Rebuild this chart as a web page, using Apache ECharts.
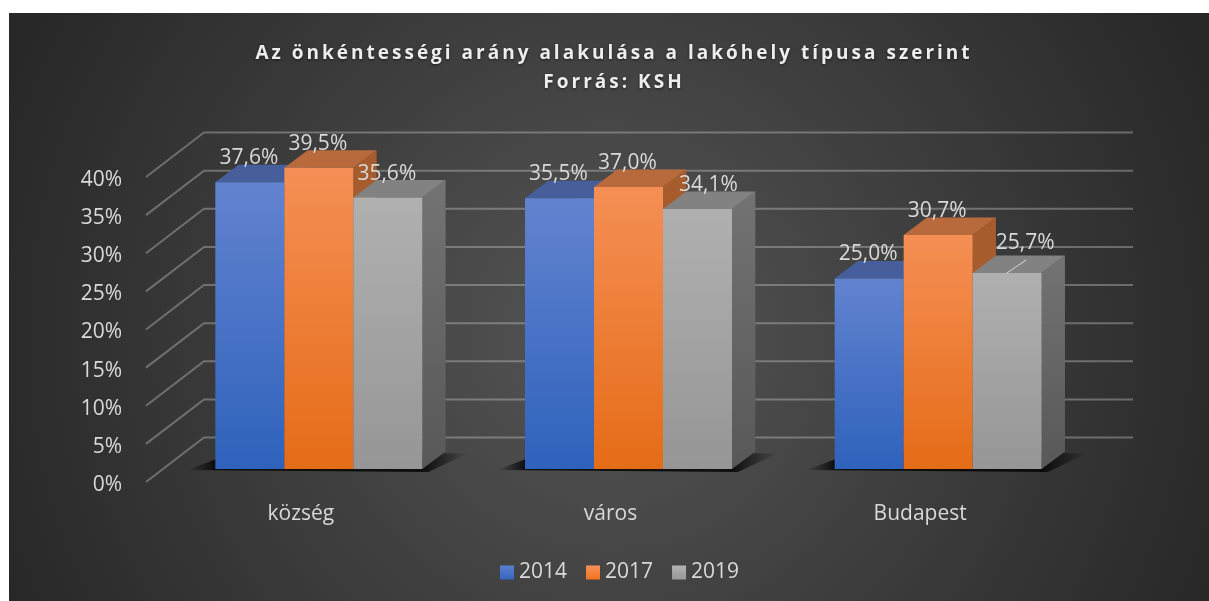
<!DOCTYPE html>
<html>
<head>
<meta charset="utf-8">
<title>Önkéntességi arány</title>
<style>
  html, body { margin: 0; background: #fff; }
  #chart { width: 1209px; height: 601px; }
</style>
<script src="https://cdn.jsdelivr.net/npm/echarts@6/dist/echarts.min.js"></script>
</head>
<body>
<div id="chart"></div>
<script>
const categories = ["község", "város", "Budapest"];
const years = ["2014", "2017", "2019"];
const values2014 = [37.6, 35.5, 25.0];
const values2017 = [39.5, 37.0, 30.7];
const values2019 = [35.6, 34.1, 25.7];
const yTicks = [0, 5, 10, 15, 20, 25, 30, 35, 40];
const titleLines = ["Az önkéntességi arány alakulása a lakóhely típusa szerint", "Forrás: KSH"];

const seriesValues = [values2014, values2017, values2019];
const FONT = '"Open Sans", sans-serif';
const TEXT = "#d9d9d9";

// 3D look: the walls sit behind the front plane, the bars somewhere between
const WALL_DX = 58, WALL_DY = -44.5;
const FLOOR_DX = 18, FLOOR_DY = -13;
const DEPTH_DX = 23.3, DEPTH_DY = -17.5;
const BAR_RATIO = 69 / 309.67;

const grad = (top, bottom) =>
  new echarts.graphic.LinearGradient(0, 0, 0, 1, [
    { offset: 0, color: top },
    { offset: 1, color: bottom },
  ]);

const barStyles = [
  { front: grad("#6283d0", "#2f62bb"), top: "#465f9c", side: "#2f4a85", legend: grad("#5a80d0", "#3565bd") },
  { front: grad("#f58f55", "#e56c17"), top: "#b96a3c", side: "#a75c2e", legend: grad("#f68f58", "#f07520") },
  { front: grad("#b0b0b0", "#969696"), top: "#828282", side: grad("#737373", "#585858"), legend: grad("#b3b3b3", "#989898") },
];

// fades out on both ends of the bar group
const shadowFill = new echarts.graphic.LinearGradient(0, 0, 1, 0, [
  { offset: 0, color: "rgba(0,0,0,0)" },
  { offset: 0.1, color: "rgba(0,0,0,0.8)" },
  { offset: 0.84, color: "rgba(0,0,0,0.8)" },
  { offset: 1, color: "rgba(0,0,0,0)" },
]);

// hand moved labels in the original, [dx, dy]
const labelShift = { "2-1": [12, 0], "2-2": [19, -6] };

// ctx has no option for this in echarts, the title is letter spaced
const nativeFillText = CanvasRenderingContext2D.prototype.fillText;
CanvasRenderingContext2D.prototype.fillText = function (text, x, y, maxWidth) {
  this.letterSpacing = titleLines.includes(text) ? "3px" : "0px";
  return maxWidth === undefined
    ? nativeFillText.call(this, text, x, y)
    : nativeFillText.call(this, text, x, y, maxWidth);
};

const renderWall = (params, api) => {
  const p = api.coord([0, api.value(0)]);
  const sys = params.coordSys;
  const x0 = sys.x, y0 = p[1];
  return {
    type: "polyline",
    shape: {
      points: [
        [x0, y0],
        [x0 + WALL_DX, y0 + WALL_DY],
        [x0 + sys.width + WALL_DX, y0 + WALL_DY],
      ],
    },
    style: { fill: "none", stroke: "rgba(205,205,205,0.38)", lineWidth: 2 },
  };
};

const renderFloorShadow = (params, api) => {
  const p = api.coord([api.value(0), 0]);
  const barW = api.size([1, 0])[0] * BAR_RATIO;
  const x = p[0] + FLOOR_DX - barW * 1.5;
  const y = p[1] + FLOOR_DY;
  const w = barW * 3;
  return {
    type: "polygon",
    shape: {
      points: [
        [x - 28, y + 1],
        [x + w + 6, y + 3],
        [x + w + DEPTH_DX + 22, y + DEPTH_DY + 2],
        [x + DEPTH_DX, y + DEPTH_DY - 1],
      ],
    },
    style: { fill: shadowFill },
  };
};

const renderBar = (idx) => (params, api) => {
  const cat = api.value(0);
  const val = api.value(1);
  const base = api.coord([cat, 0]);
  const top = api.coord([cat, val]);
  const barW = api.size([1, 0])[0] * BAR_RATIO;
  const x = base[0] + FLOOR_DX + (idx - 1.5) * barW;
  const yb = base[1] + FLOOR_DY;
  const yt = top[1] + FLOOR_DY;
  const s = barStyles[idx];
  const shift = labelShift[idx + "-" + cat] || [0, 0];
  const children = [
    {
      type: "polygon",
      z2: idx * 10,
      shape: { points: [[x + barW, yb], [x + barW + DEPTH_DX, yb + DEPTH_DY], [x + barW + DEPTH_DX, yt + DEPTH_DY], [x + barW, yt]] },
      style: { fill: s.side },
    },
    {
      type: "polygon",
      z2: idx * 10 + 1,
      shape: { points: [[x, yt], [x + barW, yt], [x + barW + DEPTH_DX, yt + DEPTH_DY], [x + DEPTH_DX, yt + DEPTH_DY]] },
      style: { fill: s.top },
    },
    {
      type: "rect",
      z2: idx * 10 + 2,
      shape: { x: x, y: yt, width: barW, height: yb - yt },
      style: { fill: s.front },
    },
    {
      type: "text",
      z2: 100,
      style: {
        text: val.toFixed(1).replace(".", ",") + "%",
        x: x + barW / 2 + shift[0] - 1,
        y: yt - 24 + shift[1],
        align: "center",
        verticalAlign: "middle",
        fill: TEXT,
        font: "21px " + FONT,
      },
    },
  ];
  if (shift[1] !== 0) {
    // leader line of the moved label
    children.push({
      type: "line",
      z2: 100,
      shape: { x1: x + barW / 2 - 1, y1: yt + 0.5, x2: x + barW / 2 + 19, y2: yt - 13 },
      style: { stroke: "#d9d9d9", lineWidth: 1 },
    });
  }
  return { type: "group", children: children };
};

const chart = echarts.init(document.getElementById("chart"), null, { renderer: "canvas" });

const option = {
  animation: false,
  graphic: [
    {
      type: "rect",
      z: -10,
      shape: { x: 9, y: 13, width: 1200, height: 588 },
      style: {
        fill: new echarts.graphic.RadialGradient(0.5, 0.55, 1.1, [
          { offset: 0, color: "#555555" },
          { offset: 1, color: "#282828" },
        ]),
      },
    },
  ],
  // two centred lines of real text
  title: titleLines.map((t, i) => ({
    text: t,
    left: 609,
    top: 39 + i * 29,
    textAlign: "center",
    textStyle: {
      color: "#ededed",
      fontSize: 19,
      fontWeight: "bold",
      fontFamily: FONT,
      textShadowColor: "rgba(0,0,0,0.55)",
      textShadowBlur: 3,
      textShadowOffsetY: 1,
    },
  })),
  grid: { left: 146, top: 177, width: 929, height: 305, containLabel: false },
  legend: {
    left: 495,
    top: 557,
    itemWidth: 14,
    itemHeight: 14,
    itemGap: 19,
    icon: "rect",
    data: years,
    textStyle: { color: TEXT, fontSize: 21, fontFamily: FONT },
  },
  xAxis: {
    type: "category",
    data: categories,
    axisLine: { show: false },
    axisTick: { show: false },
    axisLabel: { color: TEXT, fontSize: 21, fontFamily: FONT, margin: 22 },
  },
  yAxis: {
    type: "value",
    min: 0,
    max: 40,
    interval: 5,
    axisLine: { show: false },
    axisTick: { show: false },
    splitLine: { show: false },
    axisLabel: { color: TEXT, fontSize: 21, fontFamily: FONT, margin: 24, verticalAlign: "top", lineHeight: 6, formatter: "{value}%" },
  },
  series: [
    {
      type: "custom",
      name: "walls",
      renderItem: renderWall,
      silent: true,
      encode: { y: 0 },
      data: yTicks.map((t) => [t]),
      z: 1,
    },
    {
      type: "custom",
      name: "shadow",
      renderItem: renderFloorShadow,
      silent: true,
      encode: { x: 0 },
      data: categories.map((c, i) => [i]),
      z: 1,
    },
    ...years.map((y, idx) => ({
      type: "custom",
      name: y,
      renderItem: renderBar(idx),
      encode: { x: 0, y: 1 },
      itemStyle: { color: barStyles[idx].legend },
      data: seriesValues[idx].map((v, i) => [i, v]),
      z: 2,
    })),
  ],
};

chart.setOption(option);
</script>
</body>
</html>
